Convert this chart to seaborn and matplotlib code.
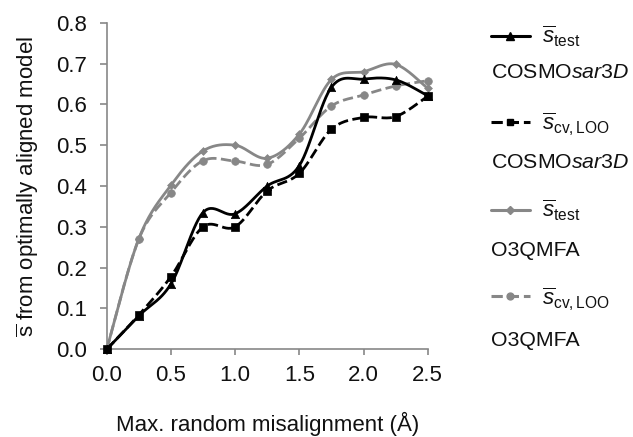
import numpy as np
import pandas as pd
import matplotlib
matplotlib.use("Agg")
import matplotlib.pyplot as plt
from matplotlib.lines import Line2D
import seaborn as sns

misalignment = [0.0, 0.25, 0.5, 0.75, 1.0, 1.25, 1.5, 1.75, 2.0, 2.25, 2.5]
cosmo_test = [0.0, 0.082, 0.16, 0.335, 0.332, 0.40, 0.45, 0.642, 0.662, 0.66, 0.621]
cosmo_cv = [0.0, 0.084, 0.178, 0.30, 0.30, 0.388, 0.431, 0.539, 0.568, 0.57, 0.62]
o3q_test = [0.0, 0.271, 0.402, 0.486, 0.50, 0.468, 0.527, 0.661, 0.68, 0.698, 0.639]
o3q_cv = [0.0, 0.27, 0.384, 0.462, 0.461, 0.453, 0.517, 0.596, 0.623, 0.645, 0.658]

series_names = ["cosmo_test", "cosmo_cv", "o3q_test", "o3q_cv"]
first_lines = [r"$\overline{s}_{\mathrm{test}}$", r"$\overline{s}_{\mathrm{cv,LOO}}$",
               r"$\overline{s}_{\mathrm{test}}$", r"$\overline{s}_{\mathrm{cv,LOO}}$"]
second_lines = [r"COSMO$\it{sar3D}$", r"COSMO$\it{sar3D}$", "O3QMFA", "O3QMFA"]

sns.set_style("ticks")
plt.rcParams["font.family"] = ["Liberation Sans", "DejaVu Sans"]
plt.rcParams["mathtext.fontset"] = "custom"
plt.rcParams["mathtext.rm"] = "Liberation Sans"
plt.rcParams["mathtext.it"] = "Liberation Sans:italic"
plt.rcParams["mathtext.bf"] = "Liberation Sans:bold"

FS = 16
GRAY = "#878787"
TXT = "#111111"
styles = {
    "cosmo_test": dict(color="black", ls="-", marker="^", ms=6),
    "cosmo_cv": dict(color="black", ls="--", marker="s", ms=5.5),
    "o3q_test": dict(color=GRAY, ls="-", marker="D", ms=4),
    "o3q_cv": dict(color=GRAY, ls="--", marker="o", ms=5.5),
}
values = {"cosmo_test": cosmo_test, "cosmo_cv": cosmo_cv, "o3q_test": o3q_test, "o3q_cv": o3q_cv}

df = pd.DataFrame({"x": misalignment * 4,
                   "y": cosmo_test + cosmo_cv + o3q_test + o3q_cv,
                   "series": sum([[n] * len(misalignment) for n in series_names], [])})


def smooth(xs, ys, n=30):
    # Catmull-Rom style smoothing through the data points (like spreadsheet smoothed lines)
    P = np.column_stack([xs, ys]).astype(float)
    P = np.vstack([P[0], P, P[-1]])
    out = []
    t = np.linspace(0, 1, n)
    for i in range(1, len(P) - 2):
        p0, p1, p2, p3 = P[i - 1], P[i], P[i + 1], P[i + 2]
        c1 = p1 + (p2 - p0) / 6.0
        c2 = p2 - (p3 - p1) / 6.0
        seg = ((1 - t) ** 3)[:, None] * p1 + (3 * (1 - t) ** 2 * t)[:, None] * c1 + \
              (3 * (1 - t) * t ** 2)[:, None] * c2 + (t ** 3)[:, None] * p2
        out.append(seg if i == 1 else seg[1:])
    S = np.vstack(out)
    return S[:, 0], S[:, 1]


fig = plt.figure(figsize=(6.33, 4.37), dpi=100)
ax = fig.add_axes([0.1686, 0.2007, 0.5071, 0.7473])

order = ["o3q_cv", "o3q_test", "cosmo_cv", "cosmo_test"]
for name in order:
    st = styles[name]
    sx, sy = smooth(misalignment, values[name])
    ax.plot(sx, sy, color=st["color"], ls=st["ls"], lw=2.0, zorder=2, clip_on=False)
    sub = df[df.series == name]
    sns.scatterplot(data=sub, x="x", y="y", ax=ax, color=st["color"], marker=st["marker"],
                    s=st["ms"] ** 2, edgecolor=st["color"], linewidth=0.5, zorder=3, legend=False,
                    clip_on=False)

ax.set_xlim(0, 2.5)
ax.set_ylim(0, 0.8)
ax.set_xticks([0.0, 0.5, 1.0, 1.5, 2.0, 2.5])
ax.set_yticks(np.arange(0, 0.81, 0.1))
ax.xaxis.set_major_formatter(matplotlib.ticker.FormatStrFormatter("%.1f"))
ax.yaxis.set_major_formatter(matplotlib.ticker.FormatStrFormatter("%.1f"))
for s in ["top", "right"]:
    ax.spines[s].set_visible(False)
for s in ["left", "bottom"]:
    ax.spines[s].set_color(GRAY)
    ax.spines[s].set_linewidth(1.2)
ax.tick_params(axis="both", colors=GRAY, labelcolor=TXT, labelsize=FS, width=1.2)
ax.tick_params(axis="y", length=5, pad=9)
ax.tick_params(axis="x", length=4, pad=7)
ax.set_xlabel("Max. random misalignment (Å)", fontsize=FS, labelpad=19, color=TXT)
ax.set_ylabel(r"$\overline{\mathrm{s}}$ from optimally aligned model", fontsize=FS, labelpad=11,
              color=TXT)

handles = [Line2D([], [], color=styles[n]["color"], ls=styles[n]["ls"], lw=2.2,
                  marker=styles[n]["marker"], ms=styles[n]["ms"] * 0.9) for n in series_names]
leg = fig.legend(handles, first_lines, loc="upper left", bbox_to_anchor=(491 / 633, 1 - 24 / 437),
                 frameon=False, fontsize=FS, handlelength=1.75, handletextpad=0.55,
                 labelspacing=2.75, borderaxespad=0, borderpad=0)
for t in leg.get_texts():
    t.set_color(TXT)

second_y = [72, 162, 251, 340]
for txt, yy in zip(second_lines, second_y):
    fig.text(491 / 633, 1 - yy / 437, txt, fontsize=15.3, va="center", ha="left", color=TXT)

fig.savefig("out.png", dpi=100)
